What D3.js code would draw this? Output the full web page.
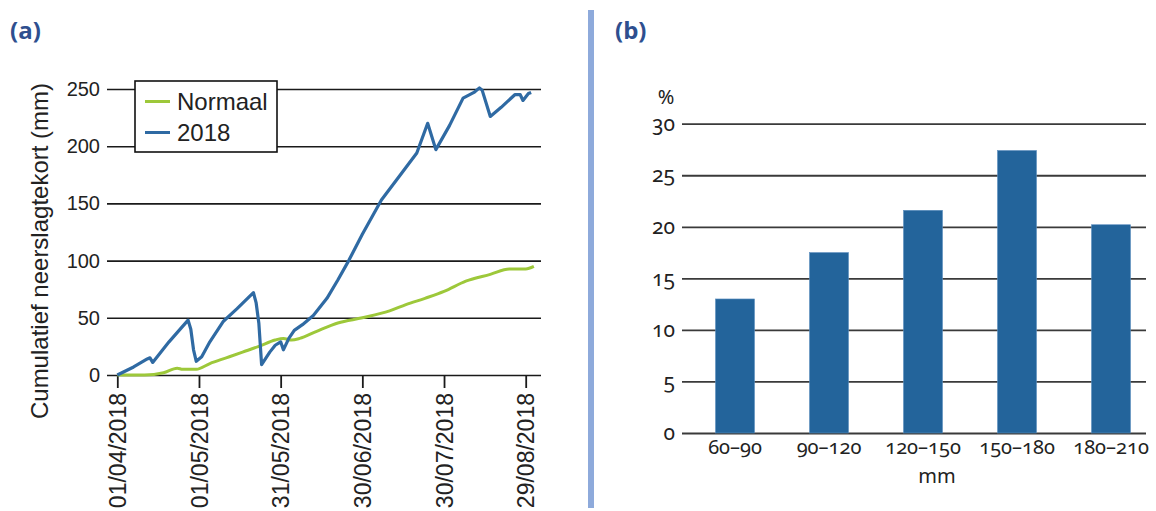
<!DOCTYPE html>
<html>
<head>
<meta charset="utf-8">
<script src="https://cdn.jsdelivr.net/npm/d3@7"></script>
<style>
  html, body { margin: 0; padding: 0; background: #fff; }
  svg { display: block; }
</style>
</head>
<body>
<svg id="chart" width="1156" height="511"></svg>
<script>
// ---------- Data: panel (a) ----------
const dates2018 = ["2018-04-01","2018-04-07","2018-04-12","2018-04-13","2018-04-14","2018-04-20","2018-04-27","2018-04-28","2018-04-29","2018-04-30",
  "2018-05-02","2018-05-05","2018-05-10","2018-05-15","2018-05-21","2018-05-22","2018-05-23","2018-05-24","2018-05-27","2018-05-29","2018-05-31",
  "2018-06-01","2018-06-03","2018-06-05","2018-06-08","2018-06-12","2018-06-17","2018-06-21","2018-06-25","2018-06-30",
  "2018-07-07","2018-07-14","2018-07-20","2018-07-24","2018-07-27","2018-08-01","2018-08-06","2018-08-10","2018-08-12","2018-08-13",
  "2018-08-16","2018-08-20","2018-08-25","2018-08-27","2018-08-28","2018-08-30","2018-08-31"];
const values2018 = [0,7,14,15,11,29,48,40,22,12,
  16,29,47,58,72,63,45,9,20,26,29,
  22,32,39,44,52,67,83,100,123,
  153,175,194,220,197,218,242,247,251,249,
  226,234,245,245,240,246,247];

const datesNormaal = ["2018-04-01","2018-04-11","2018-04-18","2018-04-23","2018-04-25","2018-04-30","2018-05-05","2018-05-11","2018-05-17","2018-05-23","2018-05-29",
  "2018-06-01","2018-06-04","2018-06-07","2018-06-13","2018-06-21","2018-06-30","2018-07-10","2018-07-16","2018-07-23","2018-07-30",
  "2018-08-07","2018-08-16","2018-08-23","2018-08-29","2018-09-01"];
const valuesNormaal = [0,0,2,6,5,5,10,15,20,25,30.6,
  32,30.6,32,38,45.5,50,56,61.5,67,73,
  82,88,92.7,92.7,95];

const xTickDates = ["2018-04-01","2018-05-01","2018-05-31","2018-06-30","2018-07-30","2018-08-29"];
const yTicksA = [0,50,100,150,200,250];
const seriesNames = ["Normaal","2018"];

// ---------- Data: panel (b) ----------
const categoriesB = ["60–90","90–120","120–150","150–180","180–210"];
const valuesB = [13.0, 17.5, 21.6, 27.4, 20.2];
const yTicksB = [0,5,10,15,20,25,30];

// ---------- Drawing ----------
const svg = d3.select("#chart");
const parse = d3.utcParse("%Y-%m-%d");
const fmt = d3.utcFormat("%d/%m/%Y");
const titleColor = "#2e4f8f";
const blue = "#2f6aa3";
const green = "#9dc83a";
const fontA = "'Liberation Sans', Arial, sans-serif";
const fontB = "'Noto Sans', 'Open Sans', sans-serif";

// panel titles
svg.append("text").attr("x", 10).attr("y", 39).text("(a)")
  .attr("font-family", "'Open Sans', sans-serif").attr("font-weight", 700)
  .attr("font-size", 24).attr("fill", titleColor);
svg.append("text").attr("x", 615).attr("y", 39).text("(b)")
  .attr("font-family", "'Open Sans', sans-serif").attr("font-weight", 700)
  .attr("font-size", 24).attr("fill", titleColor);

// separator
svg.append("rect").attr("x", 588).attr("y", 10).attr("width", 6).attr("height", 498)
  .attr("fill", "#8eaadb");

// ===== Panel (a) =====
const xA = d3.scaleUtc().domain([parse("2018-04-01"), parse("2018-08-29")]).range([117.3, 525.7]);
const yA = d3.scaleLinear().domain([0, 250]).range([375, 89]);
const gridLeft = 107, gridRight = 541;

const gA = svg.append("g");

// y axis with gridlines
const yAxisA = d3.axisLeft(yA).tickValues(yTicksA).tickSize(-(gridRight - gridLeft)).tickPadding(7);
gA.append("g").attr("transform", `translate(${gridLeft},0)`).call(yAxisA)
  .call(g => g.select(".domain").remove())
  .call(g => g.selectAll(".tick line").attr("stroke", "#1a1a1a").attr("stroke-width", 1.6))
  .call(g => g.selectAll(".tick text").attr("font-family", fontA).attr("font-size", 20).attr("fill", "#222"));

// x axis
const xAxisA = d3.axisBottom(xA).tickValues(xTickDates.map(parse)).tickFormat(fmt).tickSize(13);
gA.append("g").attr("transform", "translate(0,375)").call(xAxisA)
  .call(g => g.select(".domain").remove())
  .call(g => g.selectAll(".tick line").attr("stroke", "#1a1a1a").attr("stroke-width", 1.8))
  .call(g => g.selectAll(".tick text")
    .attr("transform", "rotate(-90)")
    .attr("x", -18).attr("y", 0).attr("dy", "0.36em")
    .style("text-anchor", "end")
    .attr("font-family", fontA).attr("font-size", 23).attr("fill", "#222"));

// y axis title
svg.append("text")
  .attr("transform", "translate(48,251) rotate(-90)")
  .attr("text-anchor", "middle")
  .attr("font-family", fontA).attr("font-size", 24).attr("fill", "#222")
  .text("Cumulatief neerslagtekort (mm)");

// lines
const lineSmooth = d3.line().x(d => xA(d[0])).y(d => yA(d[1])).curve(d3.curveMonotoneX);
const lineSharp = d3.line().x(d => xA(d[0])).y(d => yA(d[1])).curve(d3.curveLinear);
const normaalData = datesNormaal.map((d, i) => [parse(d), valuesNormaal[i]]);
const data2018 = dates2018.map((d, i) => [parse(d), values2018[i]]);
gA.append("path").datum(normaalData).attr("d", lineSmooth)
  .attr("fill", "none").attr("stroke", green).attr("stroke-width", 3).attr("stroke-linejoin", "round");
gA.append("path").datum(data2018).attr("d", lineSharp)
  .attr("fill", "none").attr("stroke", blue).attr("stroke-width", 3.2).attr("stroke-linejoin", "round");

// legend
const leg = svg.append("g");
leg.append("rect").attr("x", 135).attr("y", 81).attr("width", 142).attr("height", 71)
  .attr("fill", "#fff").attr("stroke", "#111").attr("stroke-width", 1.6);
const legColors = [green, blue];
seriesNames.forEach((name, i) => {
  const cy = 101.5 + i * 31;
  leg.append("line").attr("x1", 145).attr("x2", 170).attr("y1", cy).attr("y2", cy)
    .attr("stroke", legColors[i]).attr("stroke-width", 3);
  leg.append("text").attr("x", 177).attr("y", cy + 8)
    .attr("font-family", fontA).attr("font-size", 24).attr("fill", "#222").text(name);
});

// ===== Panel (b) =====
const xB = d3.scaleBand().domain(categoriesB).range([688, 1158]).paddingInner(0.585).paddingOuter(0.2925);
const yB = d3.scaleLinear().domain([0, 30]).range([433, 123.7]);
const gridLeftB = 682, gridRightB = 1146;
const gB = svg.append("g");

const yAxisB = d3.axisLeft(yB).tickValues(yTicksB).tickSize(-(gridRightB - gridLeftB)).tickPadding(7);
gB.append("g").attr("transform", `translate(${gridLeftB},0)`).call(yAxisB)
  .call(g => g.select(".domain").remove())
  .call(g => g.selectAll(".tick line").attr("stroke", "#3a3a3a").attr("stroke-width", 1.8))
  .call(g => g.selectAll(".tick text").attr("font-family", fontB).attr("font-size", 21)
    .attr("fill", "#222").style("font-variant-numeric", "oldstyle-nums"));

gB.selectAll("rect.bar").data(categoriesB).join("rect").attr("class", "bar")
  .attr("x", d => xB(d)).attr("width", xB.bandwidth())
  .attr("y", (d, i) => yB(valuesB[i])).attr("height", (d, i) => yB(0) - yB(valuesB[i]))
  .attr("fill", "#23649b").attr("stroke", "#5d8fbf").attr("stroke-width", 0.6);

const xAxisB = d3.axisBottom(xB).tickSize(0).tickPadding(7);
gB.append("g").attr("transform", "translate(0,433)").call(xAxisB)
  .call(g => g.select(".domain").remove())
  .call(g => g.selectAll(".tick text").attr("font-family", fontB).attr("font-size", 20)
    .attr("fill", "#222").style("font-variant-numeric", "oldstyle-nums"));

svg.append("text").attr("x", 666).attr("y", 104).attr("text-anchor", "middle")
  .attr("font-family", fontB).attr("font-size", 20).attr("fill", "#222").text("%");
svg.append("text").attr("x", 937).attr("y", 483).attr("text-anchor", "middle")
  .attr("font-family", fontB).attr("font-size", 20).attr("fill", "#222").text("mm");
</script>
</body>
</html>
